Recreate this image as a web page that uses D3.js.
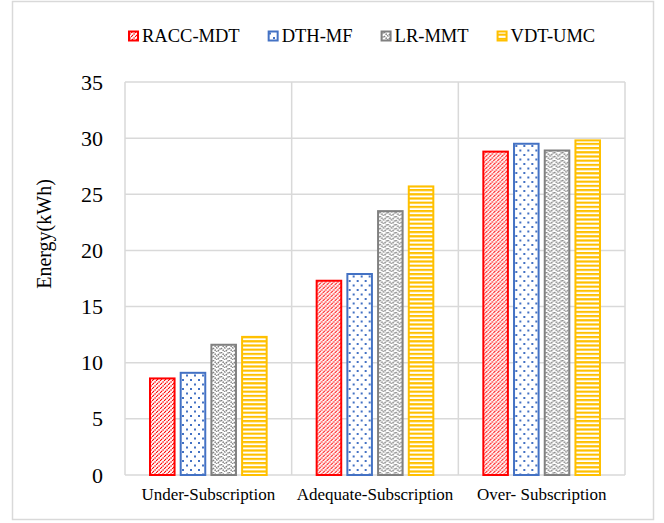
<!DOCTYPE html>
<html>
<head>
<meta charset="utf-8">
<script src="https://cdn.jsdelivr.net/npm/d3@7"></script>
<style>
  html, body { margin: 0; padding: 0; background: #fff; }
  svg { display: block; }
  text { font-family: "Liberation Serif", "Times New Roman", serif; fill: #000; }
</style>
</head>
<body>
<svg id="chart" width="664" height="523"></svg>
<script>
// Energy consumption per subscription scenario and method
const categories = ["Under-Subscription", "Adequate-Subscription", "Over- Subscription"];
const seriesNames = ["RACC-MDT", "DTH-MF", "LR-MMT", "VDT-UMC"];
const raccMdt = [8.6, 17.3, 28.8];
const dthMf   = [9.1, 17.9, 29.5];
const lrMmt   = [11.6, 23.5, 28.9];
const vdtUmc  = [12.3, 25.7, 29.8];
const yTicks  = [0, 5, 10, 15, 20, 25, 30, 35];
const yLabel  = "Energy(kWh)";

const seriesValues = [raccMdt, dthMf, lrMmt, vdtUmc];
const colors = ["#FF0000", "#4472C4", "#808080", "#FFC000"];
const serif = '"Liberation Serif", "Times New Roman", serif';

const svg = d3.select("#chart");

// outer chart frame
svg.append("rect")
  .attr("x", 12.5).attr("y", 1.5).attr("width", 641).attr("height", 518)
  .attr("fill", "#fff").attr("stroke", "#D9D9D9").attr("stroke-width", 1.5);

// fill patterns
const defs = svg.append("defs");
const pRed = defs.append("pattern").attr("id", "pat0")
  .attr("patternUnits", "userSpaceOnUse").attr("width", 4).attr("height", 4);
pRed.append("rect").attr("width", 4).attr("height", 4).attr("fill", "#fff");
pRed.append("path").attr("d", "M-1,1 L1,-1 M0,4 L4,0 M3,5 L5,3")
  .attr("stroke", "#FF0000").attr("stroke-width", 1.3).attr("stroke-dasharray", "1.4,0.8");

const pBlue = defs.append("pattern").attr("id", "pat1")
  .attr("patternUnits", "userSpaceOnUse").attr("width", 8).attr("height", 9);
pBlue.append("rect").attr("width", 8).attr("height", 9).attr("fill", "#fff");
pBlue.append("rect").attr("x", 1).attr("y", 1).attr("width", 2).attr("height", 2).attr("fill", "#4472C4");
pBlue.append("rect").attr("x", 5).attr("y", 5.5).attr("width", 2).attr("height", 2).attr("fill", "#4472C4");

const pGray = defs.append("pattern").attr("id", "pat2")
  .attr("patternUnits", "userSpaceOnUse").attr("width", 8).attr("height", 8);
pGray.append("rect").attr("width", 8).attr("height", 8).attr("fill", "#fff");
pGray.append("path").attr("d", "M0,0 L4,4 L8,0 M0,4 L4,8 L8,4")
  .attr("fill", "none").attr("stroke", "#808080").attr("stroke-width", 1.5)
  .attr("stroke-dasharray", "1.5,0.8");

const pYel = defs.append("pattern").attr("id", "pat3")
  .attr("patternUnits", "userSpaceOnUse").attr("width", 4).attr("height", 4.2);
pYel.append("rect").attr("width", 4).attr("height", 4.2).attr("fill", "#fff");
pYel.append("rect").attr("y", 0).attr("width", 4).attr("height", 2.2).attr("fill", "#FFC000");

// scales
const plot = { left: 125, right: 625, top: 82, bottom: 475 };
const x0 = d3.scaleBand().domain(categories).range([plot.left, plot.right]).padding(0);
const x1 = d3.scaleBand().domain(seriesNames)
  .range([25, x0.bandwidth() - 25]).paddingInner(0.2).paddingOuter(0);
const y = d3.scaleLinear().domain([0, 35]).range([plot.bottom, plot.top]);

// horizontal gridlines
svg.append("g").selectAll("line").data(yTicks).join("line")
  .attr("x1", plot.left).attr("x2", plot.right)
  .attr("y1", d => y(d)).attr("y2", d => y(d))
  .attr("stroke", "#D9D9D9").attr("stroke-width", 1.5);

// vertical category separators
const vx = categories.map(c => x0(c)).concat([plot.right]);
svg.append("g").selectAll("line").data(vx).join("line")
  .attr("x1", d => d).attr("x2", d => d)
  .attr("y1", plot.top).attr("y2", plot.bottom)
  .attr("stroke", "#D9D9D9").attr("stroke-width", 1.5);

// bars
const groups = svg.append("g").selectAll("g").data(categories).join("g")
  .attr("transform", c => `translate(${x0(c)},0)`);
groups.selectAll("rect")
  .data((c, ci) => seriesNames.map((s, si) => ({ s, si, v: seriesValues[si][ci] })))
  .join("rect")
  .attr("x", d => x1(d.s))
  .attr("y", d => y(d.v))
  .attr("width", x1.bandwidth())
  .attr("height", d => y(0) - y(d.v))
  .attr("fill", d => `url(#pat${d.si})`)
  .attr("stroke", d => colors[d.si])
  .attr("stroke-width", 2);

// y axis
const yAxis = svg.append("g").attr("transform", `translate(${plot.left},0)`)
  .attr("font-family", serif)
  .call(d3.axisLeft(y).tickValues(yTicks).tickSize(0).tickPadding(22));
yAxis.select(".domain").remove();
yAxis.selectAll("text").style("font-family", serif).style("font-size", "22px");

// x axis labels
const xAxis = svg.append("g").attr("transform", `translate(0,${plot.bottom})`)
  .attr("font-family", serif)
  .call(d3.axisBottom(x0).tickSize(0).tickPadding(13));
xAxis.select(".domain").remove();
xAxis.selectAll("text").style("font-family", serif).style("font-size", "17px");

// y axis title
svg.append("text")
  .attr("transform", "translate(51,234) rotate(-90)")
  .attr("text-anchor", "middle")
  .style("font-size", "20px")
  .text(yLabel);

// legend
const legend = svg.append("g");
let lx = 129;
seriesNames.forEach((s, i) => {
  legend.append("rect")
    .attr("x", lx).attr("y", 31.5).attr("width", 9).attr("height", 9)
    .attr("fill", `url(#pat${i})`).attr("stroke", colors[i]).attr("stroke-width", 2);
  const t = legend.append("text")
    .attr("x", lx + 13).attr("y", 42)
    .style("font-size", "18.5px")
    .text(s);
  lx = lx + 13 + t.node().getComputedTextLength() + 29;
});
</script>
</body>
</html>
